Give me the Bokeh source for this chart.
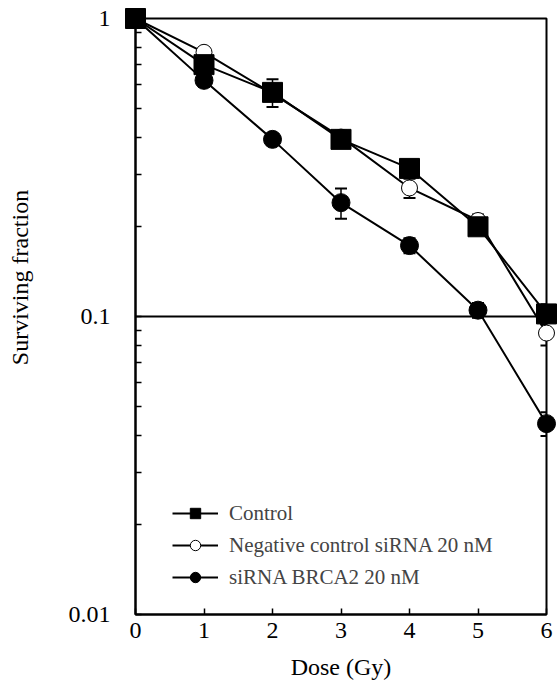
import numpy as np
from bokeh.plotting import figure
from bokeh.models import (ColumnDataSource, FixedTicker, CustomJSTickFormatter, Span,
                          Legend, LegendItem, Whisker, TeeHead)
from bokeh.embed import file_html
from bokeh.resources import INLINE

# ---- data ----
dose = [0, 1, 2, 3, 4, 5, 6]
control = [1.0, 0.70, 0.565, 0.393, 0.314, 0.200, 0.102]
control_err = [0.0, 0.04, 0.06, 0.02, 0.02, 0.01, 0.008]
neg_ctrl = [1.0, 0.77, 0.56, 0.40, 0.27, 0.21, 0.088]
neg_ctrl_err = [0.0, 0.03, 0.03, 0.02, 0.02, 0.01, 0.008]
brca2 = [1.0, 0.62, 0.393, 0.241, 0.173, 0.105, 0.0437]
brca2_err = [0.0, 0.03, 0.015, 0.028, 0.01, 0.006, 0.004]

x_ticks = [0, 1, 2, 3, 4, 5, 6]
y_ticks = [0.01, 0.1, 1]
y_minor = [0.02, 0.03, 0.04, 0.05, 0.06, 0.07, 0.08, 0.09,
           0.2, 0.3, 0.4, 0.5, 0.6, 0.7, 0.8, 0.9]

labels = ["Control", "Negative control siRNA 20 nM", "siRNA BRCA2 20 nM"]
x_title = "Dose (Gy)"
y_title = "Surviving fraction"
FONT = "Liberation Serif"

p = figure(width=558, height=683, y_axis_type="log",
           x_range=(0, 6), y_range=(0.01, 1),
           output_backend="svg", toolbar_location=None,
           min_border_left=135, min_border_right=12,
           min_border_top=18, min_border_bottom=69)
p.xgrid.visible = False
p.ygrid.visible = False
p.outline_line_color = "black"
p.outline_line_width = 2
p.background_fill_color = "white"
p.border_fill_color = "white"

# axes
for ax in (p.xaxis[0], p.yaxis[0]):
    ax.axis_line_width = 2
    ax.axis_line_color = "black"
    ax.major_tick_in = 6
    ax.major_tick_out = 0
    ax.major_tick_line_width = 1.5
    ax.major_label_text_font = FONT
    ax.major_label_text_font_size = "24px"
    ax.major_label_text_color = "black"
    ax.axis_label_text_font = FONT
    ax.axis_label_text_font_size = "24px"
    ax.axis_label_text_font_style = "normal"
    ax.axis_label_text_color = "black"

p.xaxis.ticker = FixedTicker(ticks=x_ticks)
p.xaxis.minor_tick_line_color = None
p.xaxis.major_label_standoff = 8
p.xaxis.axis_label = x_title
p.xaxis.axis_label_standoff = 13

p.yaxis.ticker = FixedTicker(ticks=y_ticks, minor_ticks=y_minor)
p.yaxis.formatter = CustomJSTickFormatter(code="return tick.toString()")
p.yaxis.minor_tick_in = 6
p.yaxis.minor_tick_out = 0
p.yaxis.minor_tick_line_width = 1.5
p.yaxis.major_label_standoff = 25
# leading no-break spaces shift the centred title upward, as in the reference
p.yaxis.axis_label = "\u00a0" * 13 + y_title
p.yaxis.axis_label_standoff = 33

p.add_layout(Span(location=0.1, dimension="width", line_color="black", line_width=2))

# error bars
series = [(control, control_err), (neg_ctrl, neg_ctrl_err), (brca2, brca2_err)]
for vals, err in series:
    v = np.array(vals)
    e = np.array(err)
    src = ColumnDataSource(dict(x=dose, up=v + e, lo=v - e))
    w = Whisker(source=src, base="x", upper="up", lower="lo",
                line_color="black", line_width=1.5, level="underlay",
                upper_head=TeeHead(size=12, line_width=2),
                lower_head=TeeHead(size=12, line_width=2))
    p.add_layout(w)

# lines + markers
ln = p.line(dose, neg_ctrl, line_color="black", line_width=2)
sn = p.scatter(dose, neg_ctrl, marker="circle", size=16, fill_color="white",
               line_color="black", line_width=1, level="overlay")
lb = p.line(dose, brca2, line_color="black", line_width=2)
sb = p.scatter(dose, brca2, marker="circle", size=18, fill_color="black",
               line_color="black", level="overlay")
lc = p.line(dose, control, line_color="black", line_width=2)
sc = p.scatter(dose, control, marker="square", size=20, fill_color="black",
               line_color="black", level="overlay")

legend = Legend(items=[LegendItem(label=labels[0], renderers=[lc, sc]),
                       LegendItem(label=labels[1], renderers=[ln, sn]),
                       LegendItem(label=labels[2], renderers=[lb, sb])],
                location=(37, 24), padding=0, margin=0, spacing=6,
                glyph_width=46, glyph_height=26, label_height=26,
                label_standoff=11, border_line_alpha=0, background_fill_alpha=0,
                label_text_font=FONT, label_text_font_size="21px")
p.add_layout(legend, "center")

open("out.html", "w").write(file_html(p, INLINE))
